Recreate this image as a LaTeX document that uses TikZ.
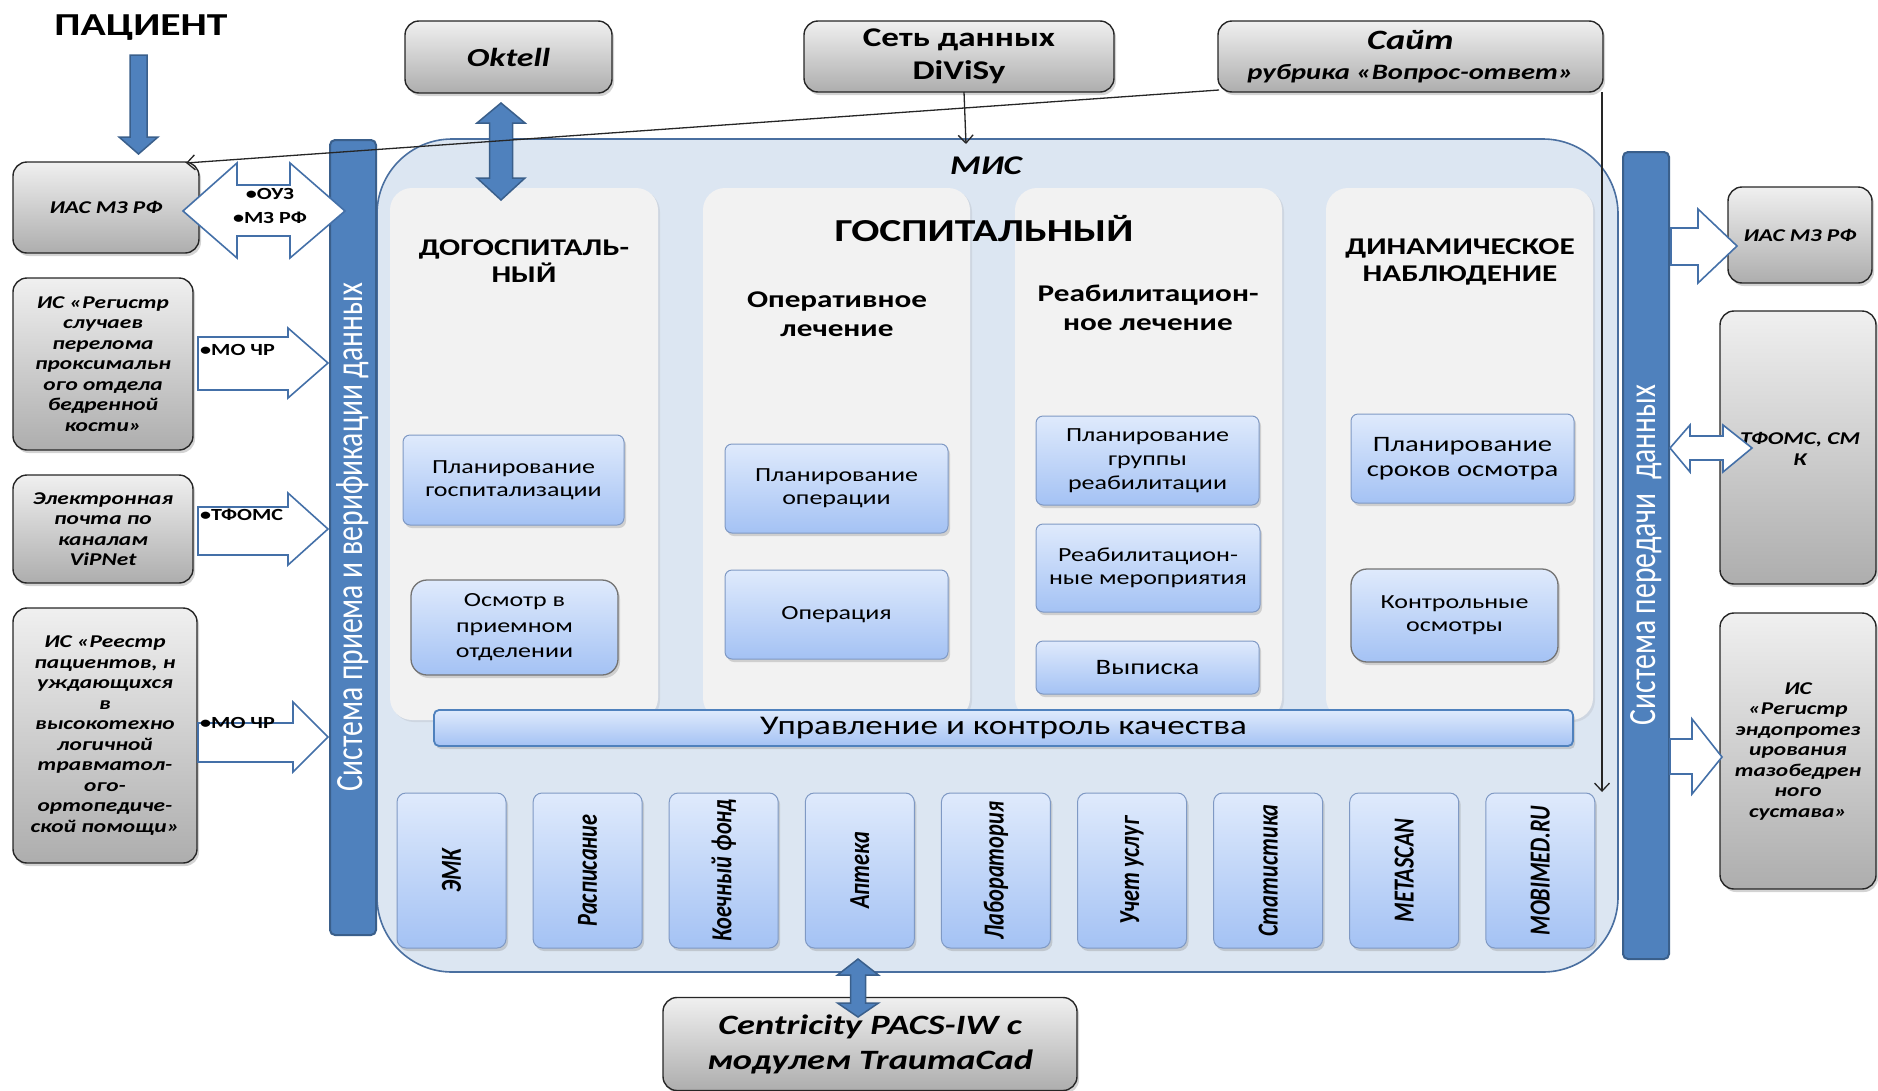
\documentclass[tikz,border=0pt]{standalone}
\usepackage{fontspec}
\setmainfont[FakeStretch=1.3]{Carlito}
\newfontfamily\vfont[FakeStretch=0.77]{Carlito}
\usetikzlibrary{shadows,arrows.meta}
\definecolor{barblue}{HTML}{4F81BD}
\definecolor{bardark}{HTML}{3A5F8B}
\definecolor{misfill}{HTML}{DCE6F2}
\definecolor{misline}{HTML}{4A6FA0}
\definecolor{colfill}{HTML}{F2F2F2}
\definecolor{subtop}{HTML}{DFEAFC}
\definecolor{subbot}{HTML}{A4C2F4}
\definecolor{subline}{HTML}{7F99C4}
\definecolor{arrline}{HTML}{4470A8}
\newcommand\fsz[2]{\fontsize{#1}{#2}\selectfont}
\tikzset{
  graybox/.style={draw=black!85, line width=1.4pt, rounded corners=14pt,
    top color=black!6, bottom color=black!32,
    drop shadow={opacity=0.35,shadow xshift=2pt,shadow yshift=-3pt},
    inner sep=0pt, align=center, font=\fsz{18}{20.5}\bfseries\itshape},
  misbox/.style={draw=misline, line width=1.6pt, fill=misfill, rounded corners=75pt},
  colbox/.style={fill=colfill, rounded corners=22pt,
    drop shadow={opacity=0.15,shadow xshift=2pt,shadow yshift=-2pt}},
  subbox/.style={draw=subline, line width=1pt, rounded corners=7pt,
    top color=subtop, bottom color=subbot,
    drop shadow={opacity=0.3,shadow xshift=2pt,shadow yshift=-3pt},
    inner sep=0pt, align=center, font=\fsz{20}{23}},
  roundsub/.style={subbox, draw=black!55, line width=1.3pt, rounded corners=16pt},
  modbox/.style={draw=subline, line width=1pt, rounded corners=9pt,
    top color=subtop, bottom color=subbot,
    drop shadow={opacity=0.3,shadow xshift=2pt,shadow yshift=-3pt},
    minimum width=109pt, minimum height=155pt, inner sep=0pt},
  modtext/.style={rotate=90, font=\vfont\fsz{29}{29}\bfseries\itshape},
  bluebar/.style={fill=barblue, draw=bardark, line width=2pt, rounded corners=5pt, inner sep=0pt},
  bartext/.style={rotate=90, text=white, font=\vfont\fsz{38.5}{38.5}},
  hollow/.style={draw=arrline, line width=1.6pt, fill=white, line join=miter},
  solidarr/.style={draw=bardark, line width=1.5pt, fill=barblue, line join=miter},
  thinarr/.style={draw=black!85, line width=1.3pt, -{Straight Barb[length=8pt,width=15pt]}},
  title/.style={align=center, font=\fsz{24}{27}\bfseries},
  lbl/.style={font=\fsz{17}{19}\bfseries, inner sep=0pt, anchor=west}
}
\begin{document}
\begin{tikzpicture}[x=1pt,y=-1pt]
\useasboundingbox (0,0) rectangle (1878,1090);

% ---- MIS container and columns
\node[misbox, minimum width=1241pt, minimum height=833pt] (mis) at (997.5,555.5) {};
\node[colbox, minimum width=268pt, minimum height=532pt] (c1) at (524,454) {};
\node[colbox, minimum width=267pt, minimum height=532pt] (c2) at (836.5,454) {};
\node[colbox, minimum width=267pt, minimum height=532pt] (c3) at (1148.5,454) {};
\node[colbox, minimum width=267pt, minimum height=532pt] (c4) at (1459.5,454) {};

\node[font=\fsz{27}{27}\bfseries\itshape] (mistitle) at (986,166) {МИС};
\node[font=\fsz{32}{32}\bfseries] (gosp) at (984,229) {ГОСПИТАЛЬНЫЙ};
\node[title] (t1) at (524,261) {ДОГОСПИТАЛЬ-\\НЫЙ};
\node[title, font=\fsz{24}{29}\bfseries] (t2) at (837,314) {Оперативное\\лечение};
\node[title, font=\fsz{24}{29}\bfseries] (t3) at (1148,308) {Реабилитацион-\\ное лечение};
\node[title] (t4) at (1460,262) {ДИНАМИЧЕСКОЕ\\НАБЛЮДЕНИЕ};

% ---- sub boxes
\node[subbox, minimum width=221pt, minimum height=90pt] (b1) at (513.5,480) {Планирование\\госпитализации};
\node[roundsub, minimum width=207pt, minimum height=95pt, font=\fsz{20}{25.5}] (b2) at (514.5,627.5) {Осмотр в\\приемном\\отделении};
\node[subbox, minimum width=223pt, minimum height=89pt] (b3) at (836.5,488.5) {Планирование\\операции};
\node[subbox, minimum width=223pt, minimum height=89pt] (b4) at (836.5,614.5) {Операция};
\node[subbox, minimum width=223pt, minimum height=89pt, font=\fsz{20}{24}] (b5) at (1147.5,460.5) {Планирование\\группы\\реабилитации};
\node[subbox, minimum width=224pt, minimum height=88pt] (b6) at (1148,568) {Реабилитацион-\\ные мероприятия};
\node[subbox, minimum width=223pt, minimum height=53pt, font=\fsz{22}{24}] (b7) at (1147.5,667.5) {Выписка};
\node[subbox, minimum width=223pt, minimum height=89pt, font=\fsz{22}{25}] (b8) at (1462.5,458.5) {Планирование\\сроков осмотра};
\node[roundsub, minimum width=207pt, minimum height=93pt] (b9) at (1454.5,615.5) {Контрольные\\осмотры};

% ---- quality bar
\node[subbox, draw=barblue, line width=1.8pt, rounded corners=5pt, minimum width=1139pt, minimum height=36pt, font=\fsz{27}{27}] (qc) at (1003.5,728) {Управление и контроль качества};

% ---- modules
\foreach \lab [count=\i from 0] in {ЭМК,Расписание,Коечный фонд,Аптека,Лаборатория,Учет услуг,Статистика,METASCAN,MOBIMED.RU}{
  \pgfmathsetmacro\cx{451.5+136.1*\i}
  \node[modbox] (m\i) at (\cx,870.5) {};
  \node[modtext] (mt\i) at (m\i) {\lab};
}

% ---- side bars
\node[bluebar, minimum width=46pt, minimum height=795pt] (lbar) at (353,537.5) {};
\node[bartext] (lbartext) at (353,537.5) {Система приема и верификации данных};
\node[bluebar, minimum width=46pt, minimum height=807pt] (rbar) at (1646,555.5) {};
\node[bartext] (rbartext) at (1646,555) {Система передачи\ \ данных};

% ---- patient
\node[font=\fsz{32}{32}\bfseries] (pac) at (141,28) {ПАЦИЕНТ};

% ---- gray boxes left
\node[graybox, minimum width=186pt, minimum height=91pt] (ias) at (106,207.5) {ИАС МЗ РФ};
\node[graybox, minimum width=180pt, minimum height=172pt] (reg1) at (103,364) {ИС «Регистр\\случаев\\перелома\\проксимальн\\ого отдела\\бедренной\\кости»};
\node[graybox, minimum width=180pt, minimum height=108pt] (mail) at (103,529) {Электронная\\почта по\\каналам\\ViPNet};
\node[graybox, minimum width=184pt, minimum height=255pt] (reg2) at (105,735.5) {ИС «Реестр\\пациентов, н\\уждающихся\\в\\высокотехно\\логичной\\травматол-\\ого-\\ортопедиче-\\ской помощи»};

% ---- gray boxes top
\node[graybox, minimum width=207pt, minimum height=72pt, font=\fsz{26}{26}\bfseries\itshape] (oktell) at (508.5,57) {Oktell};
\node[graybox, minimum width=310pt, minimum height=71pt, font=\fsz{27}{33}\bfseries] (divisy) at (959,56.5) {Сеть данных\\DiViSy};
\node[graybox, minimum width=385pt, minimum height=71pt, font=\fsz{22}{30}\bfseries\itshape] (sait) at (1410.5,56.5) {{\fsz{28}{29}Сайт}\\рубрика «Вопрос-ответ»};

% ---- gray boxes right
\node[graybox, minimum width=144pt, minimum height=96pt] (iasr) at (1800,235) {ИАС МЗ РФ};
\node[graybox, minimum width=156pt, minimum height=273pt] (tfoms) at (1798,447.5) {};
\node[font=\fsz{18}{21}\bfseries\itshape, align=center] (tfomstext) at (1800,449) {ТФОМС, СМ\\К};
\node[graybox, minimum width=156pt, minimum height=276pt] (reg3) at (1798,751) {ИС\\«Регистр\\эндопротез\\ирования\\тазобедрен\\ного\\сустава»};

% ---- bottom box
\node[graybox, minimum width=414pt, minimum height=93pt, font=\fsz{28}{35}\bfseries\itshape] (pacs) at (870,1044) {Centricity PACS-IW с\\модулем TraumaCad};

% ---- hollow arrows left
\draw[hollow] (183,211) -- (237,163) -- (237,185) -- (290,185) -- (290,163) -- (345,211) -- (290,258) -- (290,236) -- (237,236) -- (237,258) -- cycle;
\node[font=\fsz{17}{19}\bfseries] (ouz) at (270,194) {•ОУЗ};
\node[font=\fsz{17}{19}\bfseries] (mzrf) at (270,217.5) {•МЗ РФ};

\draw[hollow] (198,337) -- (288,337) -- (288,328) -- (328,363) -- (288,398) -- (288,390) -- (198,390) -- cycle;
\node[lbl] (mo1) at (200,350) {•МО ЧР};
\draw[hollow] (198,507) -- (288,507) -- (288,493) -- (328,529) -- (288,565) -- (288,555) -- (198,555) -- cycle;
\node[lbl] (tf1) at (200,515) {•ТФОМС};
\draw[hollow] (198,723) -- (293,723) -- (293,702) -- (328,737) -- (293,772) -- (293,762) -- (198,762) -- cycle;
\node[lbl] (mo2) at (200,723) {•МО ЧР};

% ---- hollow arrows right
\draw[hollow] (1671,228) -- (1698,228) -- (1698,209) -- (1737,246) -- (1698,283) -- (1698,265) -- (1671,265) -- cycle;
\draw[hollow] (1670,448) -- (1690,425) -- (1690,436) -- (1723,436) -- (1723,425) -- (1752,448) -- (1723,472) -- (1723,460) -- (1690,460) -- (1690,472) -- cycle;
\draw[hollow] (1670,739) -- (1692,739) -- (1692,719) -- (1722,757) -- (1692,794) -- (1692,774) -- (1670,774) -- cycle;

% ---- solid arrows
\draw[solidarr] (130,55) -- (147,55) -- (147,137) -- (158,137) -- (138.5,154) -- (119,137) -- (130,137) -- cycle;
\draw[solidarr] (501,103) -- (525,123) -- (512.5,123) -- (512.5,178) -- (525,178) -- (501,200) -- (477,178) -- (489.5,178) -- (489.5,123) -- (477,123) -- cycle;
\draw[solidarr] (858,959) -- (878.5,975) -- (865.5,975) -- (865.5,1003) -- (878.5,1003) -- (858,1017) -- (837.5,1003) -- (850.5,1003) -- (850.5,975) -- (837.5,975) -- cycle;

% ---- thin connectors
\coordinate (saitL) at (1219,90);
\coordinate (iasT) at (186,163);
\draw[thinarr] (saitL) -- (iasT);
\coordinate (dvA) at (964,92);
\coordinate (dvB) at (966,144);
\draw[thinarr] (dvA) -- (dvB);
\coordinate (sdA) at (1602,92);
\coordinate (sdB) at (1602,792);
\draw[thinarr] (sdA) -- (sdB);
\end{tikzpicture}
\end{document}
